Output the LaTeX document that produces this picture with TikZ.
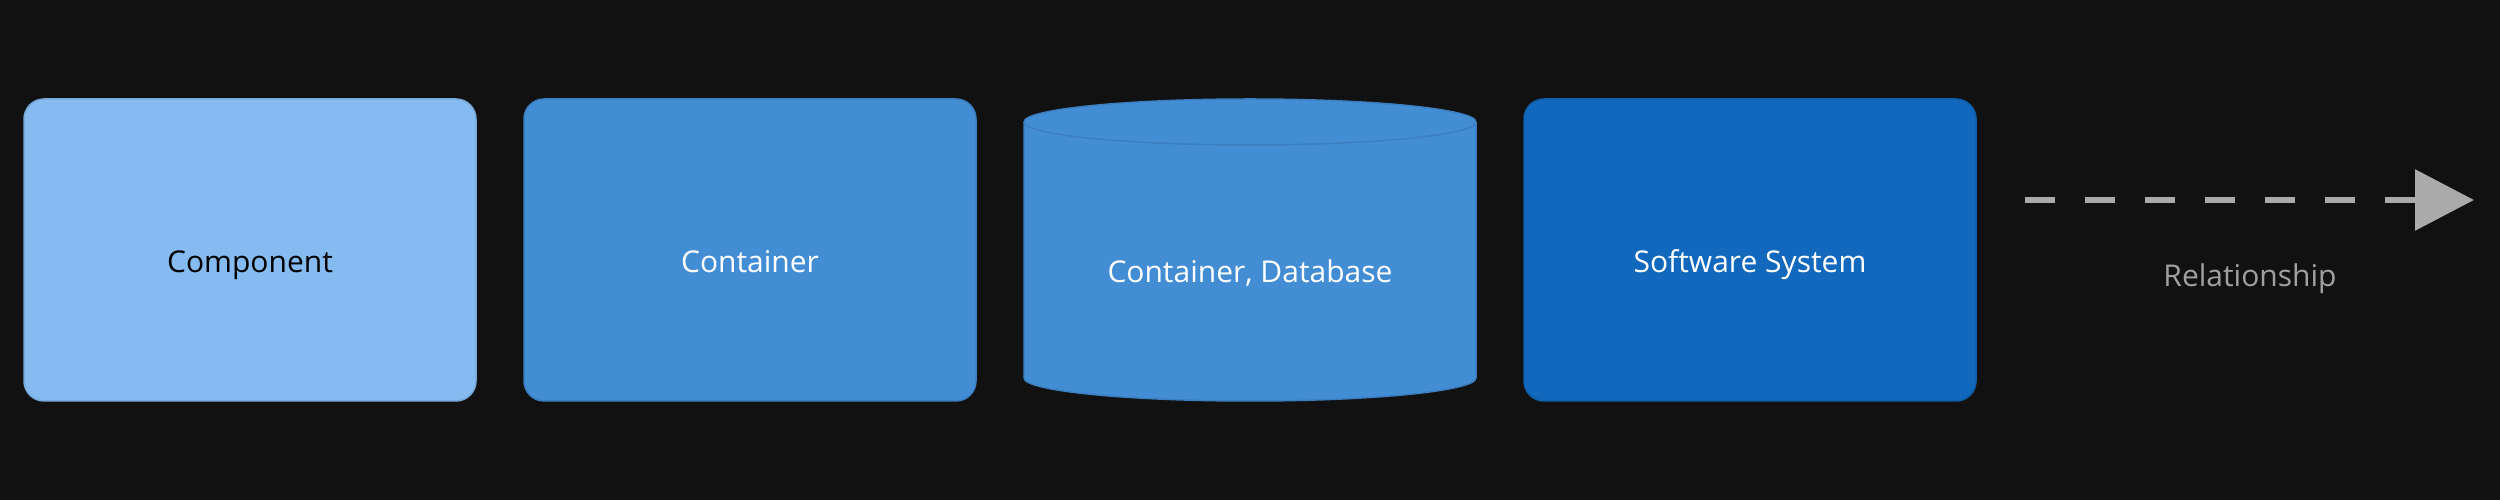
\documentclass[tikz,border=0pt]{standalone}
\usepackage{fontspec}
\setmainfont{Open Sans}
\usetikzlibrary{arrows.meta,calc}
\definecolor{bg}{HTML}{111111}
\definecolor{compfill}{HTML}{85BBF0}
\definecolor{compdraw}{HTML}{78A8D8}
\definecolor{contfill}{HTML}{438DD5}
\definecolor{contdraw}{HTML}{3C7FC0}
\definecolor{sysfill}{HTML}{1168BD}
\definecolor{sysdraw}{HTML}{0F5EAA}
\definecolor{relcol}{HTML}{AAAAAA}
\definecolor{reltext}{HTML}{A0A0A0}
\begin{document}
\begin{tikzpicture}[x=1pt,y=1pt,
  lbl/.style={font=\fontsize{30}{36}\selectfont},
  box/.style={rectangle, rounded corners=20pt, minimum width=452pt, minimum height=302pt,
    line width=1.5pt, inner sep=0pt, lbl, text height=46pt, text depth=0pt},
  compbox/.style={box, fill=compfill, draw=compdraw, text=black},
  contbox/.style={box, fill=contfill, draw=contdraw, text=white},
  sysbox/.style={box, fill=sysfill, draw=sysdraw, text=white},
  dbshape/.style={fill=contfill, draw=contdraw, line width=1.5pt},
  rel/.style={draw=relcol, line width=6pt, dash pattern=on 30pt off 30pt,
    -{Triangle[length=59pt,width=60pt]}},
]
\fill[bg] (0,0) rectangle (2500,500);
\useasboundingbox (0,0) rectangle (2500,500);

\node[compbox] (comp) at (250,250) {Component};
\node[contbox] (cont) at (750,250) {Container};

% database cylinder
\path[dbshape] (1024,378) -- (1024,122)
  arc[start angle=180, end angle=360, x radius=226, y radius=23]
  -- (1476,378)
  arc[start angle=0, end angle=180, x radius=226, y radius=23] -- cycle;
\draw[contdraw, line width=1.5pt] (1024,378)
  arc[start angle=180, end angle=360, x radius=226, y radius=23];
\node[lbl, text=white, anchor=base] (db) at (1250,217) {Container, Database};

\node[sysbox] (sys) at (1750,250) {Software System};

\coordinate (rs) at (2025,300);
\coordinate (re) at (2474,300);
\draw[rel] (rs) -- (re);
\node[lbl, text=reltext, anchor=base] (rl) at (2250,213) {Relationship};
\end{tikzpicture}
\end{document}
